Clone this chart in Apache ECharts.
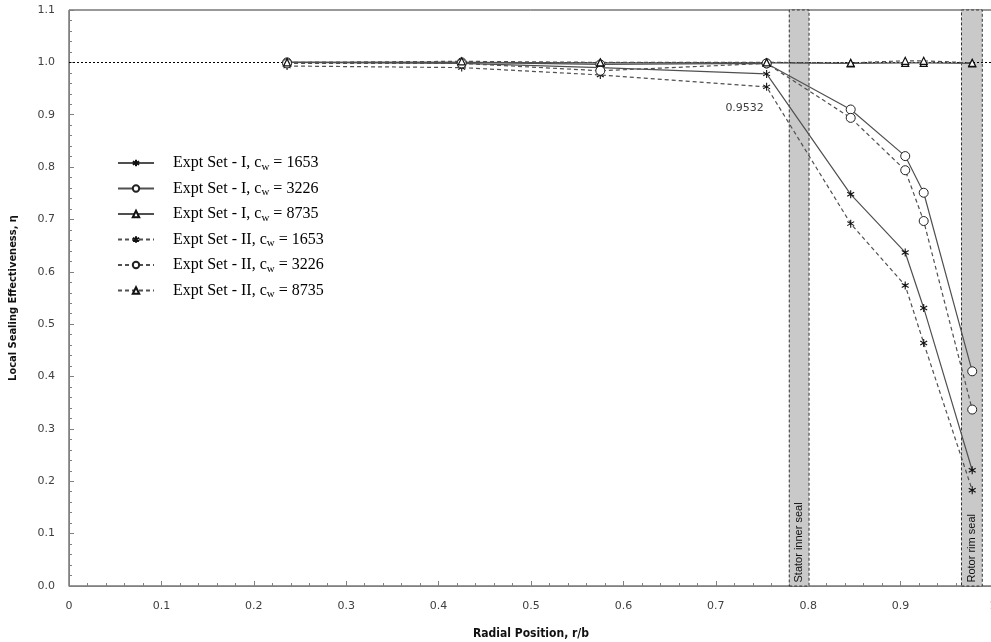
<!DOCTYPE html>
<html>
<head>
<meta charset="utf-8">
<script src="https://cdn.jsdelivr.net/npm/echarts@6/dist/echarts.min.js"></script>
<style>
  html, body { margin: 0; padding: 0; background: #fff; }
  #chart { width: 991px; height: 642px; }
</style>
</head>
<body>
<div id="chart"></div>
<script>
// Radial measurement stations (r/b)
const radialPositions = [0.236, 0.425, 0.575, 0.755, 0.846, 0.905, 0.925, 0.9775];

// Local sealing effectiveness, experiment set I
const setI_1653 = [1.0, 0.998, 0.990, 0.978, 0.748, 0.637, 0.531, 0.221];
const setI_3226 = [1.0, 1.0, 0.996, 0.998, 0.910, 0.821, 0.751, 0.410];
const setI_8735 = [1.0, 1.0, 0.999, 0.999, 0.998, 0.999, 0.999, 0.998];

// Local sealing effectiveness, experiment set II
const setII_1653 = [0.993, 0.990, 0.976, 0.9532, 0.692, 0.574, 0.464, 0.183];
const setII_3226 = [0.998, 0.998, 0.984, 0.998, 0.894, 0.794, 0.697, 0.337];
const setII_8735 = [1.0, 1.002, 1.0, 1.0, 0.999, 1.003, 1.003, 0.999];

// Seal locations (r/b ranges)
const statorSeal = [0.7795, 0.8009];
const rotorSeal = [0.9659, 0.9884];
const sealNames = ['Stator inner seal', 'Rotor rim seal'];

const seriesNames = [
  'Expt Set - I, c_w = 1653',
  'Expt Set - I, c_w = 3226',
  'Expt Set - I, c_w = 8735',
  'Expt Set - II, c_w = 1653',
  'Expt Set - II, c_w = 3226',
  'Expt Set - II, c_w = 8735'
];
const legendPrefix = ['Expt Set - I, c', 'Expt Set - I, c', 'Expt Set - I, c',
                      'Expt Set - II, c', 'Expt Set - II, c', 'Expt Set - II, c'];
const legendSuffix = [' = 1653', ' = 3226', ' = 8735', ' = 1653', ' = 3226', ' = 8735'];

const xTicks = { min: 0, max: 1, interval: 0.1 };
const yTicks = { min: 0, max: 1.1, interval: 0.1 };

// Value annotated on the chart: set II, c_w = 1653 at r/b = 0.755
const annotatedIndex = 3;

const asterisk = 'path://M5 0 L5 10 M0.67 2.5 L9.33 7.5 M0.67 7.5 L9.33 2.5';

function pairs(ys) {
  return ys.map((y, i) => [radialPositions[i], y]);
}

function makeSeries(name, ys, solid, marker) {
  const s = {
    name: name,
    type: 'line',
    z: 5,
    data: pairs(ys),
    symbolKeepAspect: true,
    lineStyle: { color: '#505050', width: 1.2, type: solid ? 'solid' : [4, 3] },
    emphasis: { disabled: true }
  };
  if (marker === 'star') {
    s.symbol = asterisk;
    s.symbolSize = 8;
    s.itemStyle = { color: 'none', borderColor: '#111', borderWidth: 1.1 };
  } else if (marker === 'circle') {
    s.symbol = 'circle';
    s.symbolSize = 9;
    s.itemStyle = { color: '#fff', borderColor: '#222', borderWidth: 1 };
  } else {
    s.symbol = 'triangle';
    s.symbolSize = 7;
    s.itemStyle = { color: '#fff', borderColor: '#111', borderWidth: 1.2 };
  }
  return s;
}

const series = [
  // Seal bands and reference line at full effectiveness
  {
    name: 'seals',
    type: 'line',
    z: 1,
    data: [],
    markArea: {
      silent: true,
      itemStyle: { color: '#c9c9c9', borderColor: '#333', borderWidth: 1, borderType: [3, 2] },
      label: {
        show: true,
        position: 'insideBottom',
        rotate: 90,
        align: 'left',
        verticalAlign: 'middle',
        distance: 4,
        color: '#111',
        fontFamily: 'Liberation Sans, Arial, sans-serif',
        fontSize: 11
      },
      data: [
        [{ name: sealNames[0], xAxis: statorSeal[0], yAxis: yTicks.min }, { xAxis: statorSeal[1], yAxis: yTicks.max }],
        [{ name: sealNames[1], xAxis: rotorSeal[0], yAxis: yTicks.min }, { xAxis: rotorSeal[1], yAxis: yTicks.max }]
      ]
    },
    markLine: {
      silent: true,
      symbol: 'none',
      label: { show: false },
      lineStyle: { color: '#000', width: 1, type: [2, 2] },
      data: [{ yAxis: 1.0 }]
    }
  },
  makeSeries(seriesNames[0], setI_1653, true, 'star'),
  makeSeries(seriesNames[1], setI_3226, true, 'circle'),
  makeSeries(seriesNames[2], setI_8735, true, 'triangle'),
  makeSeries(seriesNames[3], setII_1653, false, 'star'),
  makeSeries(seriesNames[4], setII_3226, false, 'circle'),
  makeSeries(seriesNames[5], setII_8735, false, 'triangle')
];

// Annotate the set II, c_w = 1653 value at the last station before the stator seal
series[4].data[annotatedIndex] = {
  value: series[4].data[annotatedIndex],
  label: {
    show: true,
    position: 'bottom',
    offset: [-22, 4],
    formatter: (p) => String(p.value[1]),
    color: '#404040',
    fontFamily: 'DejaVu Sans, Verdana, sans-serif',
    fontSize: 11
  }
};

const axisFont = { color: '#404040', fontFamily: 'DejaVu Sans, Verdana, sans-serif', fontSize: 11 };
const titleFontFamily = 'DejaVu Sans Condensed, Liberation Sans Narrow, DejaVu Sans, sans-serif';

const chart = echarts.init(document.getElementById('chart'), null, { renderer: 'canvas' });
chart.setOption({
  animation: false,
  backgroundColor: '#fff',
  grid: {
    left: 69, top: 10, right: -2, bottom: 56,
    outerBoundsMode: 'none',
    containLabel: false,
    show: true, borderColor: '#333', borderWidth: 1, backgroundColor: 'transparent'
  },
  legend: {
    data: seriesNames,
    orient: 'vertical',
    left: 112,
    top: 150,
    itemWidth: 36,
    itemHeight: 8,
    itemGap: 8,
    formatter: (name) => {
      const i = seriesNames.indexOf(name);
      return '{sp|}{a|' + legendPrefix[i] + '}{sub|w}{a|' + legendSuffix[i] + '}';
    },
    textStyle: {
      rich: {
        sp: { width: 14 },
        a: { fontFamily: 'Liberation Serif, Times New Roman, serif', fontSize: 16, color: '#000' },
        sub: { fontFamily: 'Liberation Serif, Times New Roman, serif', fontSize: 11, color: '#000', padding: [8, 0, 0, 0] }
      }
    }
  },
  xAxis: {
    type: 'value',
    min: xTicks.min, max: xTicks.max, interval: xTicks.interval,
    name: 'Radial Position, r/b',
    nameLocation: 'middle',
    nameGap: 42,
    nameTextStyle: { color: '#111', fontWeight: 'bold', fontFamily: titleFontFamily, fontSize: 12 },
    axisLine: { show: true, lineStyle: { color: '#808080', width: 1 } },
    axisTick: { show: true, inside: true, length: 5, lineStyle: { color: '#808080' } },
    minorTick: { show: true, splitNumber: 5, length: 3, lineStyle: { color: '#808080' } },
    splitLine: { show: false },
    axisLabel: Object.assign({
      margin: 15,
      formatter: (v) => (v === 0 ? '0' : Math.abs(v - 1) < 1e-9 ? '1' : v.toFixed(1))
    }, axisFont)
  },
  yAxis: {
    type: 'value',
    min: yTicks.min, max: yTicks.max, interval: yTicks.interval,
    name: 'Local Sealing Effectiveness, \u03b7',
    nameLocation: 'middle',
    nameGap: 50,
    nameRotate: 90,
    nameTextStyle: { color: '#111', fontWeight: 'bold', fontFamily: titleFontFamily, fontSize: 11 },
    axisLine: { show: true, lineStyle: { color: '#808080', width: 1 } },
    axisTick: { show: true, inside: true, length: 5, lineStyle: { color: '#808080' } },
    minorTick: { show: true, splitNumber: 5, length: 3, lineStyle: { color: '#808080' } },
    splitLine: { show: false },
    axisLabel: Object.assign({
      margin: 14,
      formatter: (v) => v.toFixed(1)
    }, axisFont)
  },
  series: series
});
</script>
</body>
</html>
